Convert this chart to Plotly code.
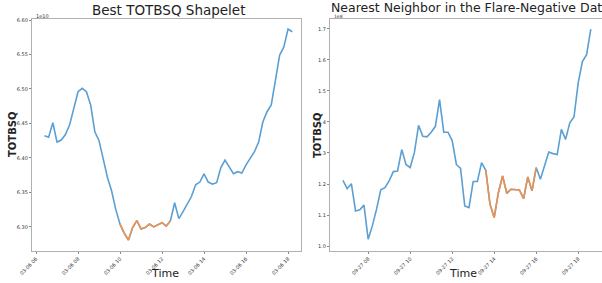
import plotly.graph_objects as go
import pandas as pd

# ---- data ----
left_start = "2012-03-06 06:24"
right_start = "2012-09-27 06:48"
left_values = [6.432, 6.430, 6.451, 6.423, 6.426, 6.434, 6.448, 6.474, 6.496, 6.501,
               6.496, 6.477, 6.438, 6.425, 6.398, 6.372, 6.352, 6.325,
               6.304, 6.291, 6.281, 6.299, 6.309, 6.297, 6.299, 6.304, 6.300, 6.303,
               6.306, 6.301, 6.309,
               6.335, 6.312, 6.322, 6.332, 6.344, 6.361, 6.365, 6.377, 6.365, 6.362,
               6.364, 6.386, 6.397, 6.387, 6.377, 6.380, 6.378, 6.390, 6.399, 6.409,
               6.423, 6.452, 6.467, 6.477, 6.513, 6.549, 6.561, 6.587, 6.583]
left_shapelet = (18, 31)  # index range of the shapelet

right_values = [1.212, 1.185, 1.201, 1.113, 1.117, 1.132, 1.022, 1.065, 1.119, 1.181,
                1.188, 1.210, 1.240, 1.242, 1.311, 1.263, 1.253, 1.301, 1.389, 1.354,
                1.352, 1.367, 1.386, 1.472, 1.367, 1.367, 1.340, 1.263, 1.250, 1.129,
                1.124, 1.208, 1.208, 1.269,
                1.244, 1.135, 1.092, 1.172, 1.226, 1.170, 1.183, 1.183, 1.181, 1.153,
                1.223, 1.178, 1.253,
                1.215, 1.258, 1.303, 1.298, 1.295, 1.376, 1.344, 1.397, 1.416, 1.526,
                1.595, 1.617, 1.699]
right_match = (34, 47)

left_yticks = [6.30, 6.35, 6.40, 6.45, 6.50, 6.55, 6.60]
right_yticks = [1.0, 1.1, 1.2, 1.3, 1.4, 1.5, 1.6, 1.7]
left_xticks = ["2012-03-06 %02d:00" % h for h in range(6, 19, 2)]
right_xticks = ["2012-09-27 %02d:00" % h for h in range(8, 19, 2)]

left_t = pd.date_range(left_start, periods=len(left_values), freq="12min")
right_t = pd.date_range(right_start, periods=len(right_values), freq="12min")

BLUE = "#5b9fd3"
ORANGE = "#ec914f"
W, H = 602, 283

fig = go.Figure()
a, b = left_shapelet
fig.add_trace(go.Scatter(x=left_t, y=left_values, mode="lines",
                         line=dict(color=BLUE, width=1.6), xaxis="x", yaxis="y"))
fig.add_trace(go.Scatter(x=left_t[a:b], y=left_values[a:b], mode="lines",
                         line=dict(color=ORANGE, width=1.6), xaxis="x", yaxis="y"))
c, d = right_match
fig.add_trace(go.Scatter(x=right_t, y=right_values, mode="lines",
                         line=dict(color=BLUE, width=1.6), xaxis="x2", yaxis="y2"))
fig.add_trace(go.Scatter(x=right_t[c:d], y=right_values[c:d], mode="lines",
                         line=dict(color=ORANGE, width=1.6), xaxis="x2", yaxis="y2"))

ydom = [(H - 251) / H, (H - 19) / H]
axis_common = dict(showgrid=False, zeroline=False, showline=True, linecolor="#b0b0b0",
                   linewidth=1.2, mirror=True, ticks="outside", ticklen=2, tickwidth=0.8,
                   tickcolor="#888", automargin=False,
                   tickfont=dict(size=5, color="#333", family="DejaVu Sans"))

fig.update_layout(
    width=W, height=H, margin=dict(l=0, r=0, t=0, b=0, pad=0),
    paper_bgcolor="white", plot_bgcolor="white", showlegend=False,
    xaxis=dict(domain=[32 / W, 301 / W], anchor="y", type="date",
               range=["2012-03-06 05:48:30", "2012-03-06 18:37"],
               tickvals=left_xticks, tickformat="%m-%d %H", tickangle=-45,
               **axis_common),
    yaxis=dict(domain=ydom, anchor="x", range=[6.265, 6.6015],
               tickvals=left_yticks, tickformat=".2f", **axis_common),
    xaxis2=dict(domain=[330 / W, 1.0], anchor="y2", type="date",
                range=["2012-09-27 06:11", "2012-09-27 19:08"],
                tickvals=right_xticks, tickformat="%m-%d %H", tickangle=-45,
                **axis_common),
    yaxis2=dict(domain=ydom, anchor="x2", range=[0.984, 1.732],
                tickvals=right_yticks, tickformat=".1f", **axis_common),
)

font_lab = dict(family="DejaVu Sans", size=11, color="#222")
ann = [
    dict(text="Best TOTBSQ Shapelet", x=168 / W, y=1 - 10 / H, xanchor="center",
         yanchor="middle", font=dict(family="DejaVu Sans", size=13.5, color="#222")),
    dict(text="Nearest Neighbor in the Flare-Negative Data", x=329 / W, y=1 - 8 / H,
         xanchor="left", yanchor="middle",
         font=dict(family="DejaVu Sans", size=12.5, color="#222")),
    dict(text="<b>TOTBSQ</b>", x=12 / W, y=1 - 135 / H, textangle=-90, xanchor="center",
         yanchor="middle", font=dict(family="DejaVu Sans", size=10, color="#222")),
    dict(text="<b>TOTBSQ</b>", x=317 / W, y=1 - 135 / H, textangle=-90, xanchor="center",
         yanchor="middle", font=dict(family="DejaVu Sans", size=10, color="#222")),
    dict(text="Time", x=165 / W, y=1 - 273 / H, xanchor="center", yanchor="middle",
         font=font_lab),
    dict(text="Time", x=463 / W, y=1 - 273 / H, xanchor="center", yanchor="middle",
         font=font_lab),
    dict(text="1e10", x=34 / W, y=1 - 16 / H, xanchor="left", yanchor="middle",
         font=dict(family="DejaVu Sans", size=5, color="#333")),
    dict(text="1e8", x=332 / W, y=1 - 16.5 / H, xanchor="left", yanchor="middle",
         font=dict(family="DejaVu Sans", size=4.5, color="#333")),
]
for an in ann:
    an.update(xref="paper", yref="paper", showarrow=False)
fig.update_layout(annotations=ann)

fig.write_html("out.html", config={"displayModeBar": False},
               post_script="document.body.style.margin='0';document.body.style.overflow='hidden';")
